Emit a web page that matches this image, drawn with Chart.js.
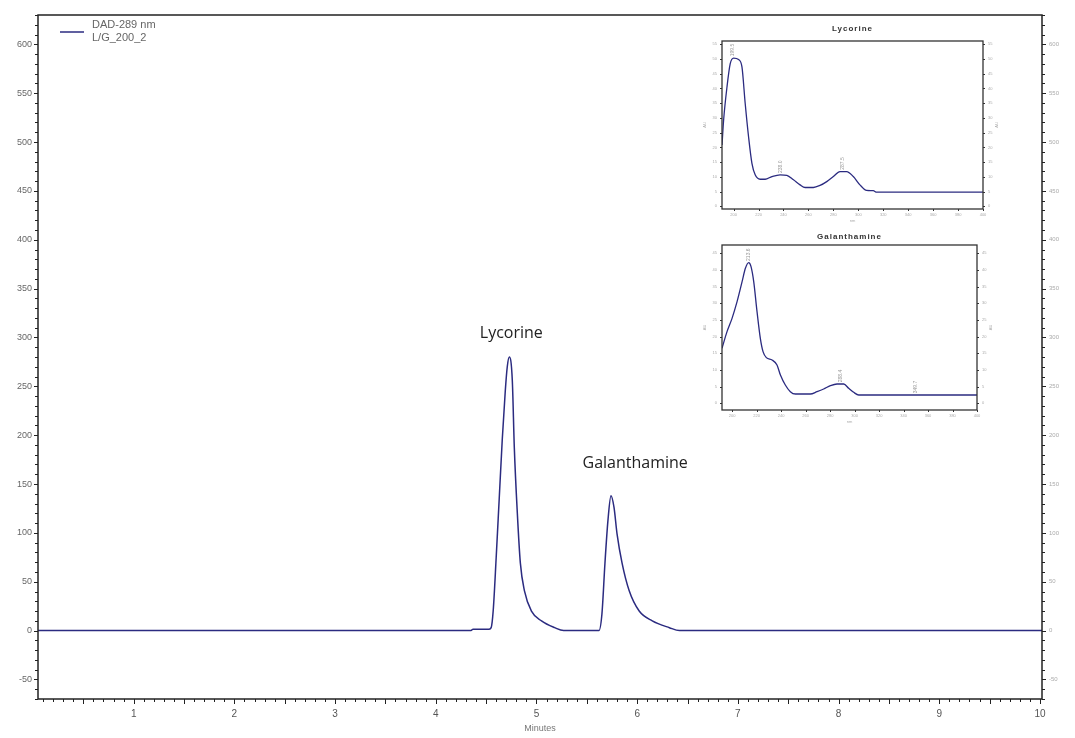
<!DOCTYPE html>
<html>
<head>
<meta charset="utf-8">
<title>DAD-289 nm chromatogram</title>
<script src="https://cdn.jsdelivr.net/npm/chart.js@4.4.1/dist/chart.umd.min.js"></script>
<style>
  html, body { margin: 0; padding: 0; background: #fff; }
  #wrap { position: relative; width: 1075px; height: 738px; overflow: hidden; }
  canvas { position: absolute; display: block; }
</style>
</head>
<body>
<div id="wrap">
  <canvas id="main" width="1075" height="738" style="left:0;top:0"></canvas>
  <canvas id="lycSpec" width="300" height="205" style="left:700px;top:20px"></canvas>
  <canvas id="galSpec" width="300" height="200" style="left:700px;top:228px"></canvas>
</div>
<script>
// chromatogram, DAD 289 nm (retention time in minutes, signal in mAU)
const runTimes = [0.05, 4.35, 4.37, 4.53, 4.55, 4.57, 4.60, 4.63, 4.66, 4.69, 4.71, 4.73, 4.76, 4.78, 4.81, 4.84, 4.88, 4.95, 5.05, 5.18, 5.27,
                  5.62, 5.65, 5.68, 5.71, 5.74, 5.77, 5.80, 5.85, 5.92, 6.02, 6.15, 6.32, 6.42, 10.02];
const signal = [0, 0, 1.5, 1.5, 3, 20, 75, 135, 195, 245, 270, 280, 256, 187, 120, 69, 41, 20, 10, 3, 0,
                0, 17, 69, 113, 138, 126, 99, 69, 41, 20, 10, 3, 0, 0];
const peakNames = ['Lycorine', 'Galanthamine'];
const peakNameTime = [4.75, 5.98];
const peakNameSignal = [304, 171];
const legendLines = ['DAD-289 nm', 'L/G_200_2'];

// UV spectra of the two peaks
const lycNm = [190.7, 192, 194.7, 197.3, 200, 204, 206.7, 209.3, 212, 214.7, 217.3, 221.3, 225.3, 230.7, 237.3, 242.7, 248, 253.3,
               257.3, 264, 269.3, 274.7, 280, 285.3, 290.7, 296, 301.3, 306.7, 312, 314.7, 400];
const lycAbs = [20.8, 29.3, 40.5, 48.4, 50.3, 49.8, 47.3, 34.9, 23.6, 14.6, 10.7, 9.2, 9.2, 10.1, 10.7, 10.5, 9.0, 7.3,
                6.4, 6.4, 7.1, 8.4, 10.1, 11.8, 11.8, 10.1, 7.3, 5.4, 5.3, 4.8, 4.8];
const lycPeakNm = [199.5, 238, 287.5];
const lycPeakAbs = [50.3, 10.7, 11.8];

const galNm = [191.8, 195.9, 200, 204.1, 208.2, 210.9, 213.6, 215.5, 217.7, 220.4, 223.1, 225.3, 228, 232.7, 236.7, 239.5, 243.5,
               247.6, 251.7, 263.9, 269.4, 274.8, 280.3, 285.7, 291.2, 295.2, 299.3, 303.4, 400];
const galAbs = [16.5, 21.5, 25.5, 30.5, 36.5, 40.5, 42.2, 41.0, 36.5, 27.5, 19.5, 15.5, 13.7, 13.0, 11.5, 8.5, 5.5,
                3.5, 2.8, 2.8, 3.5, 4.3, 5.3, 5.8, 5.8, 4.5, 3.3, 2.5, 2.5];
const galPeakNm = [213.6, 288.4, 349.7];
const galPeakAbs = [42.2, 5.8, 2.5];

const traceColor = '#2b2b80';
const sansFont = '"Liberation Sans", Arial, sans-serif';

const toPoints = (xs, ys) => xs.map((x, i) => ({ x: x, y: ys[i] }));

// tick list at every multiple of step inside the scale range
const stepTicks = (step) => (scale) => {
  const ticks = [];
  for (let n = Math.ceil(scale.min / step - 1e-9); n <= Math.floor(scale.max / step + 1e-9); n++) {
    ticks.push({ value: +(n * step).toFixed(6) });
  }
  scale.ticks = ticks;
};

// frame around the plot area plus major/minor tick marks
const axisTicks = {
  id: 'axisTicks',
  afterDraw(chart, args, opts) {
    const ctx = chart.ctx;
    const a = chart.chartArea;
    ctx.save();
    ctx.strokeStyle = opts.color;
    ctx.lineWidth = 1;
    (opts.marks || []).forEach(m => {
      const scale = chart.scales[m.scale];
      for (let n = Math.ceil(scale.min / m.step - 1e-9); n <= Math.floor(scale.max / m.step + 1e-9); n++) {
        const len = n % m.major === 0 ? m.majorLen : m.minorLen;
        const p = Math.round(scale.getPixelForValue(n * m.step)) + 0.5;
        ctx.beginPath();
        if (m.side === 'bottom') { ctx.moveTo(p, a.bottom); ctx.lineTo(p, a.bottom + len); }
        else if (m.side === 'left') { ctx.moveTo(a.left, p); ctx.lineTo(a.left - len, p); }
        else { ctx.moveTo(a.right, p); ctx.lineTo(a.right + len, p); }
        ctx.stroke();
      }
    });
    ctx.lineWidth = opts.frameWidth;
    ctx.strokeRect(a.left, a.top, a.right - a.left, a.bottom - a.top);
    ctx.restore();
  }
};

// peak names, legend and axis title of the chromatogram
const chromLabels = {
  id: 'chromLabels',
  afterDatasetsDraw(chart) {
    const ctx = chart.ctx;
    const xs = chart.scales.x, ys = chart.scales.y;
    const a = chart.chartArea;
    ctx.save();
    ctx.fillStyle = '#222';
    ctx.font = '16px "Open Sans", sans-serif';
    ctx.textAlign = 'center';
    ctx.textBaseline = 'middle';
    peakNames.forEach((name, i) => {
      ctx.fillText(name, xs.getPixelForValue(peakNameTime[i]), ys.getPixelForValue(peakNameSignal[i]));
    });

    // legend
    ctx.strokeStyle = traceColor;
    ctx.lineWidth = 1.5;
    ctx.beginPath();
    ctx.moveTo(a.left + 22, a.top + 17);
    ctx.lineTo(a.left + 46, a.top + 17);
    ctx.stroke();
    ctx.fillStyle = '#666';
    ctx.font = '11px ' + sansFont;
    ctx.textAlign = 'left';
    legendLines.forEach((t, i) => ctx.fillText(t, a.left + 54, a.top + 10 + i * 13));

    ctx.font = '9px ' + sansFont;
    ctx.fillStyle = '#777';
    ctx.textAlign = 'center';
    ctx.fillText('Minutes', (a.left + a.right) / 2, a.bottom + 30);
    ctx.restore();
  }
};

// title, peak wavelengths and axis titles of a spectrum
const specLabels = {
  id: 'specLabels',
  afterDraw(chart, args, opts) {
    const ctx = chart.ctx;
    const xs = chart.scales.x, ys = chart.scales.y;
    const a = chart.chartArea;
    ctx.save();
    ctx.fillStyle = '#333';
    ctx.font = 'bold 8px ' + sansFont;
    ctx.textAlign = 'center';
    ctx.textBaseline = 'middle';
    ctx.letterSpacing = '1px';
    ctx.fillText(opts.title, (a.left + a.right) / 2, 9);
    ctx.letterSpacing = '0px';

    ctx.fillStyle = '#999';
    ctx.font = '5px ' + sansFont;
    opts.peakNm.forEach((nm, i) => {
      ctx.save();
      ctx.translate(xs.getPixelForValue(nm), ys.getPixelForValue(opts.peakAbs[i]) - 8);
      ctx.rotate(-Math.PI / 2);
      ctx.fillText(nm.toFixed(1), 0, 0);
      ctx.restore();
    });

    ctx.fillStyle = '#aaa';
    ctx.font = '4px ' + sansFont;
    ctx.fillText('nm', (a.left + a.right) / 2, a.bottom + 12);
    [[a.left - 17, 'AU'], [a.right + 14, 'AU']].forEach(([x, t]) => {
      ctx.save();
      ctx.translate(x, (a.top + a.bottom) / 2);
      ctx.rotate(-Math.PI / 2);
      ctx.fillText(t, 0, 0);
      ctx.restore();
    });
    ctx.restore();
  }
};

const lineDataset = (xs, ys, width) => ({
  data: toPoints(xs, ys),
  borderColor: traceColor,
  borderWidth: width,
  pointRadius: 0,
  cubicInterpolationMode: 'monotone',
  fill: false
});

new Chart(document.getElementById('main'), {
  type: 'line',
  data: { datasets: [lineDataset(runTimes, signal, 1.5)] },
  options: {
    responsive: false,
    animation: false,
    devicePixelRatio: 1,
    layout: { padding: { top: 15, left: 0, right: 0, bottom: 0 } },
    plugins: {
      legend: { display: false },
      tooltip: { enabled: false },
      axisTicks: {
        color: '#222',
        frameWidth: 1.5,
        marks: [
          { scale: 'x', side: 'bottom', step: 0.1, major: 5, majorLen: 5, minorLen: 3 },
          { scale: 'y', side: 'left', step: 10, major: 5, majorLen: 4, minorLen: 3 },
          { scale: 'y2', side: 'right', step: 10, major: 5, majorLen: 4, minorLen: 3 }
        ]
      }
    },
    scales: {
      x: {
        type: 'linear', min: 0.05, max: 10.02,
        afterBuildTicks: stepTicks(1),
        afterFit: s => { s.height = 39; },
        grid: { display: false, drawTicks: false },
        border: { display: false },
        ticks: { padding: 9, color: '#555', font: { family: sansFont, size: 10 }, maxRotation: 0, autoSkip: false }
      },
      y: {
        position: 'left', min: -70, max: 630,
        afterBuildTicks: stepTicks(50),
        afterFit: s => { s.width = 38; },
        grid: { display: false, drawTicks: false },
        border: { display: false },
        ticks: { padding: 6, color: '#666', font: { family: sansFont, size: 9 } }
      },
      y2: {
        position: 'right', min: -70, max: 630,
        afterBuildTicks: stepTicks(50),
        afterFit: s => { s.width = 33; },
        grid: { display: false, drawTicks: false },
        border: { display: false },
        ticks: { padding: 7, color: '#aaa', font: { family: sansFont, size: 6 } }
      }
    }
  },
  plugins: [axisTicks, chromLabels]
});

const spectrumChart = (id, title, nm, abs, peakNm, peakAbs, box) => new Chart(document.getElementById(id), {
  type: 'line',
  data: { datasets: [lineDataset(nm, abs, 1.3)] },
  options: {
    responsive: false,
    animation: false,
    devicePixelRatio: 1,
    layout: { padding: { top: box.top, left: 0, right: 0, bottom: 0 } },
    plugins: {
      legend: { display: false },
      tooltip: { enabled: false },
      specLabels: { title: title, peakNm: peakNm, peakAbs: peakAbs },
      axisTicks: {
        color: '#333',
        frameWidth: 1.3,
        marks: [
          { scale: 'x', side: 'bottom', step: 20, major: 1, majorLen: 2, minorLen: 2 },
          { scale: 'y', side: 'left', step: 5, major: 1, majorLen: 2, minorLen: 2 },
          { scale: 'y', side: 'right', step: 5, major: 1, majorLen: 2, minorLen: 2 }
        ]
      }
    },
    scales: {
      x: {
        type: 'linear', min: nm[0], max: nm[nm.length - 1],
        afterBuildTicks: stepTicks(20),
        afterFit: s => { s.height = box.bottom; },
        grid: { display: false, drawTicks: false },
        border: { display: false },
        ticks: { padding: 3, color: '#aaa', font: { family: sansFont, size: 4 }, maxRotation: 0, autoSkip: false }
      },
      y: {
        position: 'left', min: box.yMin, max: box.yMax,
        afterBuildTicks: stepTicks(5),
        afterFit: s => { s.width = box.left; },
        grid: { display: false, drawTicks: false },
        border: { display: false },
        ticks: { padding: 5, color: '#aaa', font: { family: sansFont, size: 4 }, autoSkip: false }
      },
      y2: {
        position: 'right', min: box.yMin, max: box.yMax,
        afterBuildTicks: stepTicks(5),
        afterFit: s => { s.width = box.right; },
        grid: { display: false, drawTicks: false },
        border: { display: false },
        ticks: { padding: 5, color: '#aaa', font: { family: sansFont, size: 4 }, autoSkip: false }
      }
    }
  },
  plugins: [axisTicks, specLabels]
});

spectrumChart('lycSpec', 'Lycorine', lycNm, lycAbs, lycPeakNm, lycPeakAbs,
  { top: 21, bottom: 16, left: 22, right: 17, yMin: -0.9, yMax: 56.1 });
spectrumChart('galSpec', 'Galanthamine', galNm, galAbs, galPeakNm, galPeakAbs,
  { top: 17, bottom: 18, left: 22, right: 23, yMin: -2, yMax: 47.5 });
</script>
</body>
</html>
